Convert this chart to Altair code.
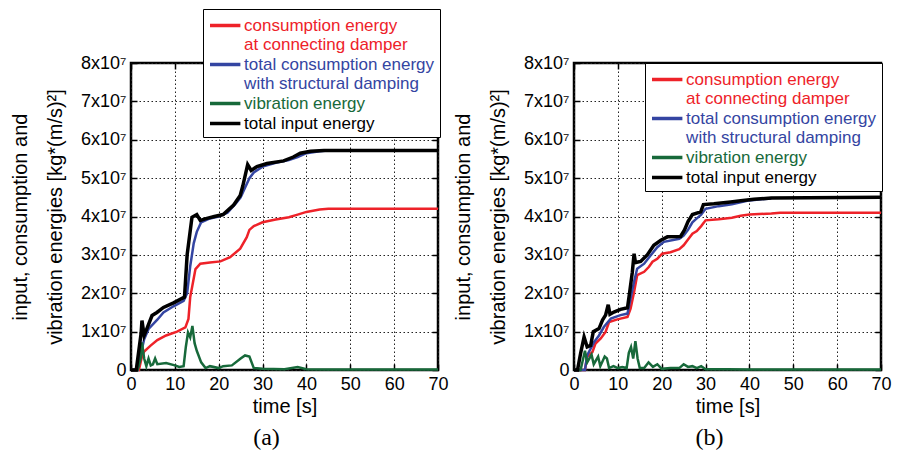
import altair as alt
import pandas as pd

SERIES = ["consumption energy|at connecting damper",
          "total consumption energy|with structural damping",
          "vibration energy",
          "total input energy"]
COLORS = ["#ee2229", "#3445a2", "#17693a", "#000000"]

# ---------------- panel (a) : values in units of 1e7 kg*(m/s)^2 ----------------
a_red_t = [0, 1.8, 2.5, 3, 4.4, 6, 8, 10.5, 12.4, 13.1, 13.5, 14, 14.7, 15.8, 18, 20.4, 22.6, 24.9, 26.4, 27, 28, 30, 33, 36, 38, 40, 43, 45, 70]
a_red_v = [0, 0, 0.35, 0.48, 0.63, 0.78, 0.9, 1.0, 1.11, 1.33, 1.9, 2.2, 2.63, 2.77, 2.8, 2.83, 2.94, 3.16, 3.46, 3.65, 3.75, 3.85, 3.92, 3.98, 4.05, 4.12, 4.18, 4.2, 4.2]

a_blue_t = [0, 1.5, 2, 3, 4, 6, 7.4, 9.7, 12, 12.8, 13.5, 14.3, 15, 16, 18, 20, 22, 24, 25, 26, 27, 28, 30, 33, 36, 38, 40, 43, 45]
a_blue_v = [0, 0, 0.3, 0.8, 1.07, 1.31, 1.5, 1.66, 1.8, 2.0, 2.7, 3.3, 3.6, 3.85, 3.95, 4.0, 4.1, 4.35, 4.5, 4.75, 5.0, 5.15, 5.3, 5.4, 5.47, 5.55, 5.65, 5.7, 5.72]

a_green_t = [0, 1.5, 2.2, 2.5, 3, 3.5, 4, 4.5, 5, 5.5, 6, 8, 10, 11, 12, 12.5, 13, 13.5, 14, 14.5, 15, 16, 17, 18, 20, 21, 23, 25, 26, 27, 28, 30, 35, 38, 40, 45, 70]
a_green_v = [0, 0, 0.3, 0.72, 0.3, 0.1, 0.3, 0.12, 0.15, 0.3, 0.15, 0.18, 0.12, 0.08, 0.1, 0.6, 0.98, 0.85, 1.15, 0.7, 0.5, 0.2, 0.05, 0.1, 0.05, 0.1, 0.12, 0.3, 0.38, 0.35, 0.05, 0.03, 0.02, 0.08, 0.02, 0.01, 0.01]

a_black_t = [0, 1.2, 2.3, 2.5, 3, 3.6, 4.8, 5.9, 7.4, 9.7, 12.2, 12.8, 13.9, 15, 15.8, 17.3, 19, 21, 23.4, 24.9, 25.5, 26.6, 27.4, 28.7, 31, 34.8, 37, 38.6, 40.9, 44, 70]
a_black_v = [0, 0, 0.95, 1.29, 0.9, 1.07, 1.42, 1.5, 1.63, 1.75, 1.9, 3.0, 3.98, 4.05, 3.9, 3.95, 4.0, 4.05, 4.3, 4.55, 4.8, 5.35, 5.2, 5.3, 5.38, 5.45, 5.55, 5.65, 5.7, 5.72, 5.72]

# ---------------- panel (b) ----------------
b_red_t = [0, 2.5, 3, 4.2, 4.9, 6.1, 7.2, 8, 9.9, 12.2, 12.9, 13.7, 14.4, 16, 17.1, 17.9, 19, 20.1, 22, 24, 25, 26, 27, 28, 29, 30, 33, 36, 38, 40, 45, 47, 70]
b_red_v = [0, 0, 0.34, 0.47, 0.69, 0.82, 0.99, 1.25, 1.32, 1.38, 1.6, 2.03, 2.47, 2.56, 2.69, 2.82, 2.9, 3.03, 3.07, 3.15, 3.25, 3.4, 3.55, 3.62, 3.75, 3.9, 3.93, 3.97, 4.02, 4.05, 4.08, 4.1, 4.1]

b_blue_t = [0, 2.5, 3, 4.6, 5.7, 6.8, 8.4, 10.6, 12.2, 12.9, 13.7, 14.4, 16, 17.5, 19, 20.5, 24, 25, 26, 27, 28, 29, 30, 33, 36, 40, 45]
b_blue_v = [0, 0, 0.38, 0.73, 0.9, 1.12, 1.34, 1.43, 1.47, 1.86, 2.3, 2.64, 2.77, 2.99, 3.2, 3.34, 3.42, 3.5, 3.65, 3.85, 3.95, 4.05, 4.2, 4.27, 4.32, 4.42, 4.47]

b_green_t = [0, 1.5, 2.5, 3, 4, 4.5, 5.5, 6, 7, 7.5, 8, 9, 10, 11, 12, 12.5, 13, 13.5, 14, 14.5, 15, 16, 17, 18, 19, 20, 22, 24, 25, 26, 27, 28, 29, 30, 35, 40, 70]
b_green_v = [0, 0, 0.5, 0.2, 0.4, 0.15, 0.35, 0.1, 0.35, 0.3, 0.05, 0.1, 0.05, 0.08, 0.05, 0.45, 0.6, 0.3, 0.75, 0.3, 0.05, 0.05, 0.2, 0.08, 0.15, 0.03, 0.05, 0.05, 0.15, 0.08, 0.1, 0.05, 0.1, 0.02, 0.02, 0.01, 0.01]

b_black_t = [0, 0.8, 1.5, 2.3, 3, 3.8, 4.4, 5.7, 6.5, 7.2, 7.8, 8.2, 9.1, 10.6, 12.2, 12.7, 13.3, 13.7, 14, 15.2, 16.7, 18.2, 19.8, 21.3, 24.3, 25.2, 26, 27, 28.9, 29.5, 31.9, 35.7, 38, 41, 45, 70]
b_black_v = [0, 0, 0.43, 0.86, 0.6, 0.64, 1.0, 1.08, 1.3, 1.43, 1.7, 1.45, 1.51, 1.58, 1.62, 2.03, 2.55, 3.03, 2.8, 2.83, 3.0, 3.25, 3.38, 3.47, 3.48, 3.65, 3.87, 4.05, 4.12, 4.31, 4.33, 4.38, 4.41, 4.45, 4.48, 4.5]

Y_TICKS = [0, 1, 2, 3, 4, 5, 6, 7, 8]
X_TICKS = [0, 10, 20, 30, 40, 50, 60, 70]
Y_TITLE = ["input, consumption and", "vibration energies [kg*(m/s)\u00b2]"]
X_TITLE = "time [s]"


def long_df(parts):
    frames = [pd.DataFrame({"t": t, "v": v, "series": name}) for name, t, v in parts]
    return pd.concat(frames, ignore_index=True)


df_a = long_df([(SERIES[0], a_red_t, a_red_v), (SERIES[1], a_blue_t, a_blue_v),
                (SERIES[2], a_green_t, a_green_v), (SERIES[3], a_black_t, a_black_v)])
df_b = long_df([(SERIES[0], b_red_t, b_red_v), (SERIES[1], b_blue_t, b_blue_v),
                (SERIES[2], b_green_t, b_green_v), (SERIES[3], b_black_t, b_black_v)])

LABEL_COLOR = " : ".join(
    f"datum.value == '{s}' ? '{c}'" for s, c in zip(SERIES[:-1], COLORS[:-1])
) + f" : '{COLORS[-1]}'"

FONT = "Liberation Sans"
X_SCALE = alt.Scale(domain=[0, 70], nice=False, zero=False)
Y_SCALE = alt.Scale(domain=[0, 8], nice=False, zero=False)


def tick_axis(orient, values):
    # inward-pointing MATLAB-style ticks, no labels
    return alt.Axis(orient=orient, values=values, labels=False, grid=False, domain=False,
                    ticks=True, tickSize=6, offset=-6, tickWidth=1.5, tickColor="black",
                    title=None)


def panel(df, lx, ly, tag):
    legend = alt.Legend(
        title=None, orient="none", legendX=lx, legendY=ly, direction="vertical",
        labelExpr="split(datum.label, '|')",
        labelColor=alt.ExprRef(expr=LABEL_COLOR),
        labelFont=FONT, labelFontSize=17, labelOffset=7.4, labelLimit=400,
        symbolType="M-1.6,0H1.6", symbolSize=361, symbolStrokeWidth=3.5, symbolOffset=5.7,
        fillColor="white", strokeColor="black", padding=5, rowPadding=0,
    )
    base = alt.Chart(df).encode(
        x=alt.X("t:Q", scale=X_SCALE,
                axis=alt.Axis(values=X_TICKS, title=X_TITLE, format="d", labelFlush=False)),
        y=alt.Y("v:Q", scale=Y_SCALE,
                axis=alt.Axis(values=Y_TICKS, title=Y_TITLE, labelFlush=False,
                              labelExpr="datum.value == 0 ? '0' : datum.value + 'x10\u2077'")),
        color=alt.Color("series:N", scale=alt.Scale(domain=SERIES, range=COLORS), legend=legend),
    )
    thin = base.transform_filter(alt.datum.series != SERIES[3]).mark_line(strokeWidth=2.5)
    thick = base.transform_filter(alt.datum.series == SERIES[3]).mark_line(strokeWidth=3.5)
    main = alt.layer(thin, thick)

    ticks_lb = alt.Chart(df).mark_point(opacity=0, size=0).encode(
        x=alt.X("t:Q", scale=X_SCALE, axis=tick_axis("bottom", X_TICKS)),
        y=alt.Y("v:Q", scale=Y_SCALE, axis=tick_axis("left", Y_TICKS)),
    )
    ticks_tr = alt.Chart(df).mark_point(opacity=0, size=0).encode(
        x=alt.X("t:Q", scale=X_SCALE, axis=tick_axis("top", X_TICKS)),
        y=alt.Y("v:Q", scale=Y_SCALE, axis=tick_axis("right", Y_TICKS)),
    )
    return (
        alt.layer(main, ticks_lb, ticks_tr)
        .resolve_scale(x="independent", y="independent")
        .resolve_axis(x="independent", y="independent")
        .properties(
            width=307, height=307,
            title=alt.TitleParams(tag, orient="bottom", font="Liberation Serif", fontSize=24,
                                  fontWeight="normal", color="black", dx=-18, offset=10),
        )
    )


pa = panel(df_a, 72, -54, "(a)")
pb = panel(df_b, 71, 0, "(b)")

chart = (
    alt.hconcat(pa, pb, spacing=136, bounds="flush")
    .resolve_scale(color="independent")
    .resolve_legend(color="independent")
    .properties(padding={"left": 9, "top": 7, "right": 5, "bottom": 2}, background="white")
    .configure_view(stroke="black", strokeWidth=2.5)
    .configure_axis(
        grid=True, gridDash=[1.5, 2.5], gridColor="#222222", gridWidth=1,
        labelFont=FONT, labelFontSize=18, labelColor="black",
        titleFont=FONT, titleFontSize=20, titleFontWeight="normal", titleColor="black",
        tickSize=0, domain=False, labelPadding=5,
    )
    .configure_axisY(titleLineHeight=35, titlePadding=15)
    .configure_axisX(titlePadding=3)
)

chart.save("out.html", embed_options={"renderer": "svg", "actions": False})
